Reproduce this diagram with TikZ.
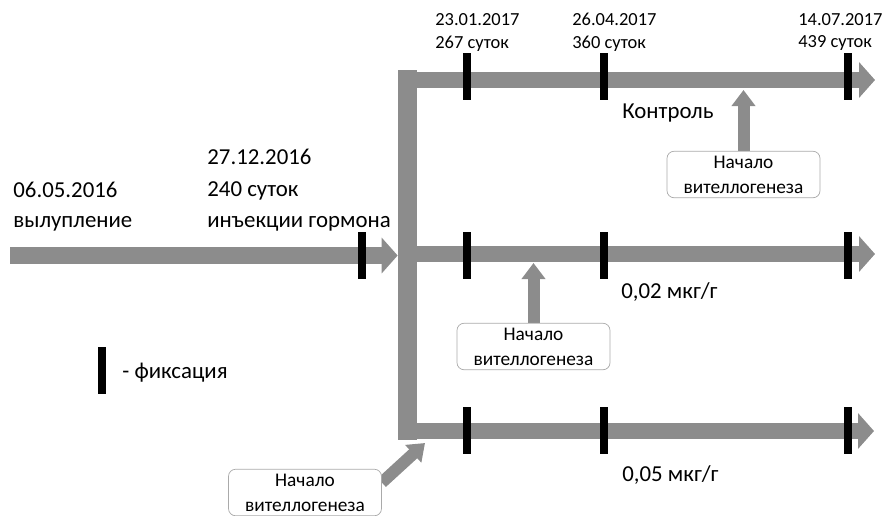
\documentclass[tikz,border=0pt]{standalone}
\usepackage{fontspec}
\setmainfont{Carlito}
\usetikzlibrary{arrows.meta, positioning, backgrounds}
\definecolor{bargray}{RGB}{140,140,140}
\definecolor{boxgray}{RGB}{170,170,170}

\begin{document}
\begin{tikzpicture}[x=0.02cm, y=-0.02cm,
  fix/.style={fill=black, minimum width=0.17cm, minimum height=0.94cm, inner sep=0pt},
  lane/.style={draw=bargray, line width=0.32cm, -{Triangle[width=0.7cm,length=0.32cm]}},
  pointer/.style={draw=bargray, line width=0.24cm, -{Triangle[width=0.46cm,length=0.32cm]}},
  note/.style={draw=boxgray, fill=white, rounded corners=4pt, minimum width=3.06cm, minimum height=0.93cm, inner sep=0pt, align=center, font=\fontsize{11}{14.2}\selectfont},
  big/.style={anchor=base west, inner sep=0pt, font=\fontsize{13}{16}\selectfont},
  small/.style={anchor=base west, inner sep=0pt, font=\fontsize{10.5}{12}\selectfont}]
\useasboundingbox (0,0) rectangle (884,515);

% main line and splitter
\node[fill=bargray, minimum width=0.38cm, minimum height=7.4cm, inner sep=0pt] (bar) at (407.5,255) {};
\coordinate (hatch) at (10,255.5);
\draw[lane, line width=0.34cm] (hatch) -- (bar.west |- hatch);

% three groups
\coordinate (ctl0) at (bar.east |- 0,80);   \coordinate (ctl1) at (875,80);
\coordinate (lowd0) at (bar.east |- 0,254); \coordinate (lowd1) at (875,254);
\coordinate (hid0) at (bar.east |- 0,431);  \coordinate (hid1) at (874,431);
\draw[lane] (ctl0) -- (ctl1);
\draw[lane] (lowd0) -- (lowd1);
\draw[lane] (hid0) -- (hid1);

% fixation marks
\node[fix] (inj) at (362,255.5) {};
\foreach \x/\n in {467/a, 604/b, 848/c}
  \foreach \y/\m in {76.5/ctl, 255/lowd, 430.5/hid}
    \node[fix] (\m\n) at (\x,\y) {};

% dates
\node[small] (d1) at (435,25) {23.01.2017};
\node[small] (s1) at (435,48) {267 суток};
\node[small] (d2) at (572,25) {26.04.2017};
\node[small] (s2) at (572,48) {360 суток};
\node[small] (d3) at (798,25) {14.07.2017};
\node[small] (s3) at (798,47) {439 суток};

\node[big] (hatchdate) at (13,197) {06.05.2016};
\node[big] (hatchtxt) at (13,227) {вылупление};
\node[big] (injdate) at (207,164) {27.12.2016};
\node[big] (injday) at (207,196) {240 суток};
\node[big] (injtxt) at (207,227) {инъекции гормона};

\node[big] (ctltxt) at (622,118) {Контроль};
\node[big] (lowdtxt) at (621,298) {0,02 мкг/г};
\node[big] (hidtxt) at (622,481) {0,05 мкг/г};

% legend
\node[fix] (key) at (102,370) {};
\node[big] (keytxt) at (122,378) {- фиксация};

% onset of vitellogenesis
\node[note] (vit1) at (743.5,174.5) {Начало\\вителлогенеза};
\node[note] (vit2) at (533.5,346.5) {Начало\\вителлогенеза};
\node[note] (vit3) at (305,492.5) {Начало\\вителлогенеза};
\coordinate (v1) at (743.5,90);
\coordinate (v2) at (533.5,263);
\coordinate (v3) at (425,443);
\begin{scope}[on background layer]
\draw[pointer] (vit1.north) -- (v1);
\draw[pointer] (vit2.north) -- (v2);
\draw[pointer] ([yshift=0.2cm]vit3.east) -- (v3);
\end{scope}
\end{tikzpicture}
\end{document}
